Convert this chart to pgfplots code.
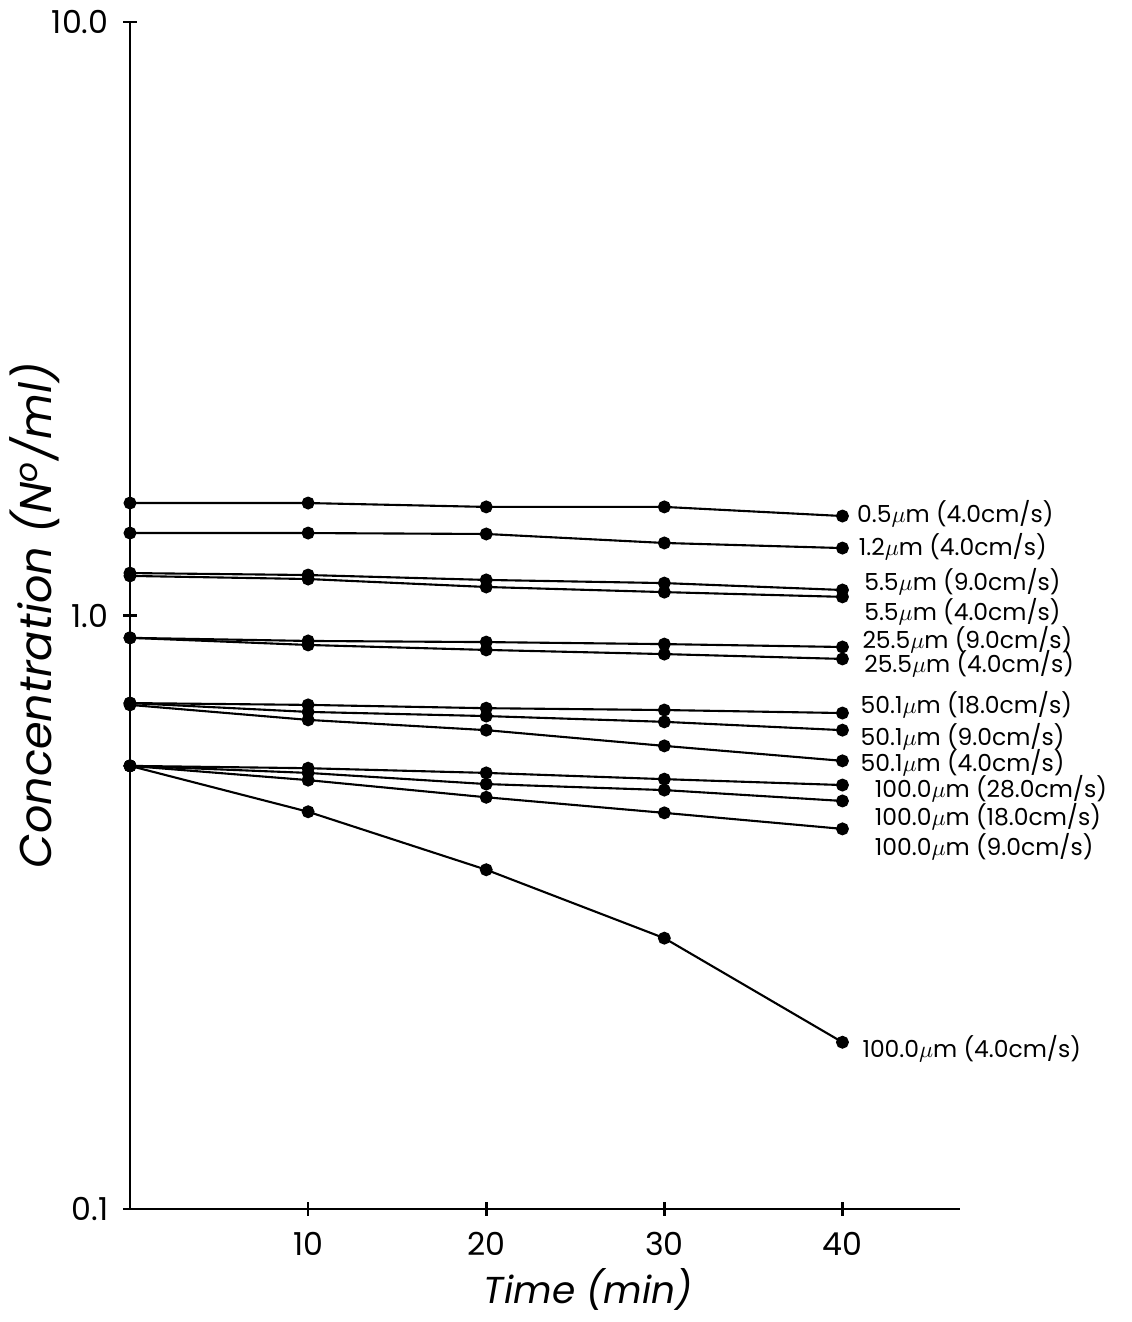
\documentclass[border=0pt]{standalone}
\usepackage{fontspec}
\setmainfont{Poppins}
\usepackage{pgfplots}
\pgfplotsset{compat=1.18}
\newcommand{\um}{\ensuremath{\mu}m}
\begin{document}
\begin{tikzpicture}
\useasboundingbox (-1.95,-1.695) rectangle (15.015,18.135);
\begin{axis}[
  at={(0,0)}, anchor=south west,
  scale only axis,
  width=12.45cm, height=17.805cm,
  ymode=log,
  xmin=0, xmax=46.6, ymin=0.1, ymax=10,
  axis x line*=bottom, axis y line*=left,
  axis line style={line width=1.1pt,-},
  xtick={10,20,30,40},
  ytick={0.1,1,10},
  yticklabels={0.1,1.0,10.0},
  yminorticks=false,
  tick align=center,
  major tick length=0.2cm,
  tick style={line width=1.1pt,black},
  /pgf/number format/assume math mode=true,
  ticklabel style={font=\fontsize{13.5}{16}\selectfont},
  xticklabel style={yshift=-0.12cm},
  yticklabel style={xshift=-0.1cm},
  xlabel={\textit{Time (min)}},
  ylabel={\textit{Concentration (N\textsuperscript{o}/ml)}},
  every axis x label/.style={at={(axis description cs:0.552,-0.068)},anchor=center,font=\fontsize{16}{19}\selectfont},
  every axis y label/.style={at={(axis description cs:-0.1145,0.5)},rotate=90,anchor=center,font=\fontsize{19}{22}\selectfont},
  clip=false,
  ser/.style={black, solid, line width=0.9pt, mark=*, mark size=2.3pt, mark options={solid,fill=black}},
]
% 0.5 um (4.0)
\addplot[ser] coordinates {(0,1.547) (10,1.547) (20,1.524) (30,1.524) (40,1.471)};
% 1.2 um (4.0)
\addplot[ser] coordinates {(0,1.377) (10,1.377) (20,1.372) (30,1.325) (40,1.299)};
% 5.5 um (9.0)
\addplot[ser] coordinates {(0,1.179) (10,1.170) (20,1.148) (30,1.134) (40,1.104)};
% 5.5 um (4.0)
\addplot[ser] coordinates {(0,1.166) (10,1.152) (20,1.117) (30,1.095) (40,1.075)};
% 25.5 um (9.0)
\addplot[ser] coordinates {(0,0.917) (10,0.906) (20,0.902) (30,0.895) (40,0.885)};
% 25.5 um (4.0)
\addplot[ser] coordinates {(0,0.917) (10,0.892) (20,0.875) (30,0.861) (40,0.845)};
% 50.1 um (18.0)
\addplot[ser] coordinates {(0,0.712) (10,0.707) (20,0.698) (30,0.693) (40,0.685)};
% 50.1 um (9.0)
\addplot[ser] coordinates {(0,0.712) (10,0.688) (20,0.677) (30,0.662) (40,0.641)};
% 50.1 um (4.0)
\addplot[ser] coordinates {(0,0.707) (10,0.667) (20,0.641) (30,0.603) (40,0.569)};
% 100.0 um (28.0)
\addplot[ser] coordinates {(0,0.558) (10,0.553) (20,0.543) (30,0.530) (40,0.518)};
% 100.0 um (18.0)
\addplot[ser] coordinates {(0,0.558) (10,0.543) (20,0.520) (30,0.508) (40,0.487)};
% 100.0 um (9.0)
\addplot[ser] coordinates {(0,0.558) (10,0.528) (20,0.494) (30,0.465) (40,0.437)};
% 100.0 um (4.0)
\addplot[ser] coordinates {(0,0.558) (10,0.467) (20,0.373) (30,0.286) (40,0.191)};

\begin{scope}[every node/.style={anchor=west,inner sep=0pt,font=\fontsize{10}{12}\selectfont}]
\node at (axis cs:40.8,1.483) {0.5\um\ (4.0cm/s)};
\node at (axis cs:40.9,1.304) {1.2\um\ (4.0cm/s)};
\node at (axis cs:41.2,1.139) {5.5\um\ (9.0cm/s)};
\node at (axis cs:41.2,1.014) {5.5\um\ (4.0cm/s)};
\node at (axis cs:41.1,0.912) {25.5\um\ (9.0cm/s)};
\node at (axis cs:41.2,0.830) {25.5\um\ (4.0cm/s)};
\node at (axis cs:41.0,0.707) {50.1\um\ (18.0cm/s)};
\node at (axis cs:41.0,0.624) {50.1\um\ (9.0cm/s)};
\node at (axis cs:41.0,0.565) {50.1\um\ (4.0cm/s)};
\node at (axis cs:41.8,0.510) {100.0\um\ (28.0cm/s)};
\node at (axis cs:41.8,0.458) {100.0\um\ (18.0cm/s)};
\node at (axis cs:41.8,0.407) {100.0\um\ (9.0cm/s)};
\node at (axis cs:41.1,0.186) {100.0\um\ (4.0cm/s)};
\end{scope}
\end{axis}
\end{tikzpicture}
\end{document}
